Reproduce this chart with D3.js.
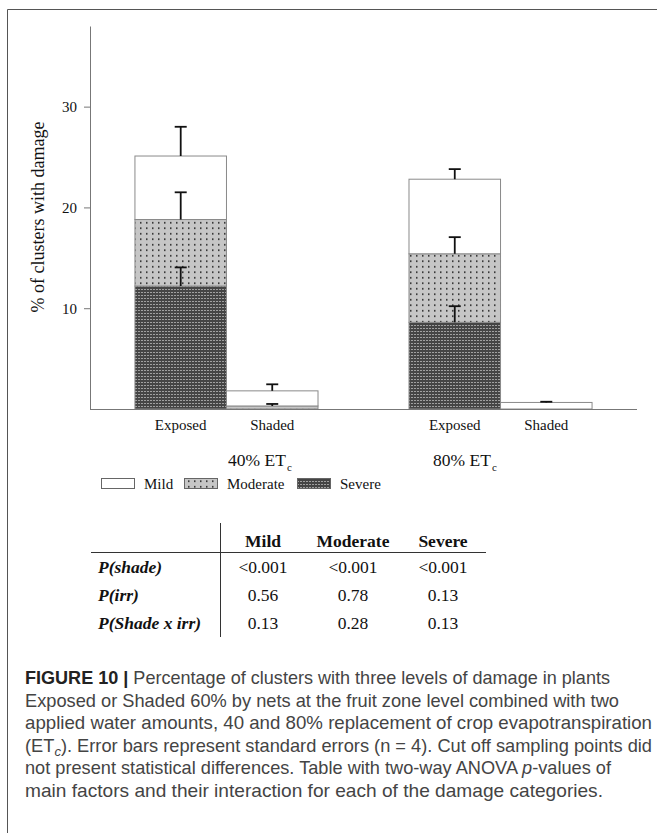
<!DOCTYPE html>
<html>
<head>
<meta charset="utf-8">
<style>
  body { margin: 0; background: #fff; }
  svg { display: block; }
</style>
<script src="https://cdn.jsdelivr.net/npm/d3@7/dist/d3.min.js"></script>
</head>
<body>
<svg id="fig" width="657" height="833"></svg>
<script>
(function () {

    // chart values
    var groups = ['40%', '80%'];
    var shading = ['Exposed', 'Shaded'];
    var severe = [12.2, 0.0, 8.6, 0.0];
    var moderate = [6.6, 0.3, 6.8, 0.0];
    var mild = [6.3, 1.5, 7.4, 0.65];
    var severeSE = [1.85, 0, 1.6, 0];
    var moderateSE = [2.7, 0.2, 1.65, 0];
    var mildSE = [2.9, 0.65, 1.0, 0.07];
    var yTicks = [10, 20, 30];
    var levels = ['Mild', 'Moderate', 'Severe'];

    // ANOVA table
    var tableRows = ['P(shade)', 'P(irr)', 'P(Shade x irr)'];
    var pShade = ['<0.001', '<0.001', '<0.001'];
    var pIrr = ['0.56', '0.78', '0.13'];
    var pShadeIrr = ['0.13', '0.28', '0.13'];

    var caption = [
        [['FIGURE 10 | ', 'b'], ['Percentage of clusters with three levels of damage in plants']],
        [['Exposed or Shaded 60% by nets at the fruit zone level combined with two']],
        [['applied water amounts, 40 and 80% replacement of crop evapotranspiration']],
        [['(ET'], ['c', 'sub'], ['). Error bars represent standard errors (n = 4). Cut off sampling points did']],
        [['not present statistical differences. Table with two-way ANOVA '], ['p', 'i'], ['-values of']],
        [['main factors and their interaction for each of the damage categories.']]
    ];
    // measured width of each caption line in the figure
    var captionWidths = [585, 594, 627, 627, 586, 578];

    var serif = '"Liberation Serif", "Times New Roman", serif';
    var sans = '"Liberation Sans", Arial, sans-serif';
    var axisColor = '#777';

    var svg = d3.select('#fig');

    buildPatterns();
    drawFrame();
    drawChart();
    drawLegend();
    drawTable();
    drawCaption();

    function buildPatterns() {
        var defs = svg.append('defs');

        var mod = defs.append('pattern')
            .attr('id', 'pat-moderate')
            .attr('patternUnits', 'userSpaceOnUse')
            .attr('width', 6).attr('height', 5.5);
        mod.append('rect').attr('width', 6).attr('height', 5.5).attr('fill', '#c6c6c6');
        mod.append('rect').attr('x', 2).attr('y', 2).attr('width', 1.5).attr('height', 1.5).attr('fill', '#1a1a1a');

        var sev = defs.append('pattern')
            .attr('id', 'pat-severe')
            .attr('patternUnits', 'userSpaceOnUse')
            .attr('width', 3).attr('height', 3);
        sev.append('rect').attr('width', 3).attr('height', 3).attr('fill', '#454545');
        sev.append('rect').attr('x', 0).attr('y', 1).attr('width', 2).attr('height', 1).attr('fill', '#a0a0a0');
    }

    function drawFrame() {
        svg.append('path')
            .attr('d', 'M7.5,833V9.5H657')
            .attr('fill', 'none')
            .attr('stroke', '#555')
            .attr('stroke-width', 1);
    }

    function fillFor(key) {
        if (key === 'severe') { return 'url(#pat-severe)'; }
        if (key === 'moderate') { return 'url(#pat-moderate)'; }
        return '#fff';
    }

    function drawChart() {
        var x0 = d3.scaleBand().domain(groups).range([90, 637])
            .paddingInner(0.332).paddingOuter(0.164);
        var x1 = d3.scaleBand().domain(shading).range([0, x0.bandwidth()]);
        var y = d3.scaleLinear().domain([0, 38]).range([409, 26]);

        // rows for d3.stack
        var rows = [];
        groups.forEach(function (g, gi) {
            shading.forEach(function (s, si) {
                var i = gi * 2 + si;
                rows.push({
                    group: g, shade: s,
                    severe: severe[i], moderate: moderate[i], mild: mild[i],
                    se: { severe: severeSE[i], moderate: moderateSE[i], mild: mildSE[i] }
                });
            });
        });

        var series = d3.stack().keys(['severe', 'moderate', 'mild'])(rows);

        var barX = function (d) { return x0(d.data.group) + x1(d.data.shade); };

        var layer = svg.append('g').selectAll('g')
            .data(series)
            .join('g')
            .attr('fill', function (s) { return fillFor(s.key); });

        layer.selectAll('rect')
            .data(function (s) { return s.filter(function (d) { return d[1] - d[0] > 0; }); })
            .join('rect')
            .attr('x', barX)
            .attr('width', x1.bandwidth())
            .attr('y', function (d) { return y(d[1]); })
            .attr('height', function (d) { return y(d[0]) - y(d[1]); })
            .attr('stroke', '#8a8a8a')
            .attr('stroke-width', 1);

        // error bars (upper half only), drawn after all segments
        var errs = [];
        series.forEach(function (s) {
            s.forEach(function (d) {
                var se = d.data.se[s.key];
                if (se > 0 && d[1] - d[0] > 0) {
                    errs.push({ cx: barX(d) + x1.bandwidth() / 2, top: d[1], se: se });
                }
            });
        });

        var eb = svg.append('g').attr('stroke', '#111').attr('stroke-width', 1.8);
        eb.selectAll('line.v')
            .data(errs)
            .join('line')
            .attr('class', 'v')
            .attr('x1', function (d) { return d.cx; })
            .attr('x2', function (d) { return d.cx; })
            .attr('y1', function (d) { return y(d.top); })
            .attr('y2', function (d) { return y(d.top + d.se); });
        eb.selectAll('line.cap')
            .data(errs)
            .join('line')
            .attr('class', 'cap')
            .attr('x1', function (d) { return d.cx - 6; })
            .attr('x2', function (d) { return d.cx + 6; })
            .attr('y1', function (d) { return y(d.top + d.se); })
            .attr('y2', function (d) { return y(d.top + d.se); });

        // axes
        var yAxis = svg.append('g')
            .attr('transform', 'translate(90,0)')
            .call(d3.axisLeft(y).tickValues(yTicks).tickSize(6).tickPadding(7).tickSizeOuter(0));
        yAxis.select('.domain').attr('stroke', axisColor);
        yAxis.selectAll('.tick line').attr('stroke', axisColor);
        yAxis.selectAll('.tick text')
            .attr('font-family', serif).attr('font-size', 15).attr('fill', '#111');

        svg.append('line')
            .attr('x1', 90).attr('x2', 637)
            .attr('y1', y(0) + 0.5).attr('y2', y(0) + 0.5)
            .attr('stroke', axisColor);

        // category labels under each bar
        rows.forEach(function (r) {
            svg.append('text')
                .attr('x', x0(r.group) + x1(r.shade) + x1.bandwidth() / 2)
                .attr('y', 430)
                .attr('text-anchor', 'middle')
                .attr('font-family', serif).attr('font-size', 15).attr('fill', '#111')
                .text(r.shade);
        });

        // group labels sit a little inward from the group centres
        var gx = d3.scalePoint().domain(groups)
            .range([x0(groups[0]) + 125, x0(groups[1]) + 56]);
        groups.forEach(function (g) {
            var t = svg.append('text')
                .attr('x', gx(g))
                .attr('y', 466)
                .attr('text-anchor', 'middle')
                .attr('font-family', serif).attr('font-size', 17.5).attr('fill', '#111');
            t.append('tspan').text(g + ' ET');
            t.append('tspan').attr('font-size', 11).attr('dy', 5).attr('dx', 1).text('c');
        });

        svg.append('text')
            .attr('transform', 'translate(44,217) rotate(-90)')
            .attr('text-anchor', 'middle')
            .attr('font-family', serif).attr('font-size', 18).attr('fill', '#111')
            .text('% of clusters with damage');
    }

    function drawLegend() {
        var lx = d3.scaleOrdinal().domain(levels).range([101, 184, 297]);
        var keys = { Mild: 'mild', Moderate: 'moderate', Severe: 'severe' };
        var g = svg.append('g');
        levels.forEach(function (l) {
            g.append('rect')
                .attr('x', lx(l) + 0.5).attr('y', 478.5)
                .attr('width', 33).attr('height', 10)
                .attr('fill', fillFor(keys[l]))
                .attr('stroke', '#666');
            g.append('text')
                .attr('x', lx(l) + 43).attr('y', 489)
                .attr('font-family', serif).attr('font-size', 15).attr('fill', '#111')
                .text(l);
        });
    }

    function drawTable() {
        var cx = d3.scalePoint().domain(levels).range([263, 443]);
        var ry = d3.scalePoint().domain(tableRows).range([573, 629]);
        var values = [pShade, pIrr, pShadeIrr];
        var g = svg.append('g').attr('font-family', serif).attr('font-size', 17.5).attr('fill', '#111');

        g.append('line').attr('x1', 220.5).attr('x2', 220.5).attr('y1', 523).attr('y2', 637)
            .attr('stroke', '#333');
        g.append('line').attr('x1', 91).attr('x2', 486).attr('y1', 552.5).attr('y2', 552.5)
            .attr('stroke', '#333');

        levels.forEach(function (l) {
            g.append('text').attr('x', cx(l)).attr('y', 547)
                .attr('text-anchor', 'middle').attr('font-weight', 'bold').text(l);
        });

        tableRows.forEach(function (r, ri) {
            g.append('text').attr('x', 98).attr('y', ry(r))
                .attr('font-weight', 'bold').attr('font-style', 'italic').text(r);
            levels.forEach(function (l, li) {
                g.append('text').attr('x', cx(l)).attr('y', ry(r))
                    .attr('text-anchor', 'middle').text(values[ri][li]);
            });
        });
    }

    function drawCaption() {
        var ly = d3.scaleLinear().domain([0, caption.length - 1]).range([684, 797]);
        var g = svg.append('g').attr('font-family', sans).attr('font-size', 18.2).attr('fill', '#444');

        caption.forEach(function (line, i) {
            var t = g.append('text').attr('x', 25).attr('y', ly(i))
                .attr('textLength', captionWidths[i])
                .attr('lengthAdjust', 'spacingAndGlyphs');
            var sub = false;
            line.forEach(function (seg) {
                var ts = t.append('tspan').text(seg[0]);
                if (seg[1] === 'b') {
                    ts.attr('font-weight', 'bold').attr('fill', '#222');
                } else if (seg[1] === 'i') {
                    ts.attr('font-style', 'italic');
                } else if (seg[1] === 'sub') {
                    ts.attr('font-style', 'italic').attr('font-size', 13).attr('dy', 4);
                    sub = true;
                } else if (sub) {
                    ts.attr('dy', -4);
                    sub = false;
                }
            });
        });
    }

})();
</script>
</body>
</html>
